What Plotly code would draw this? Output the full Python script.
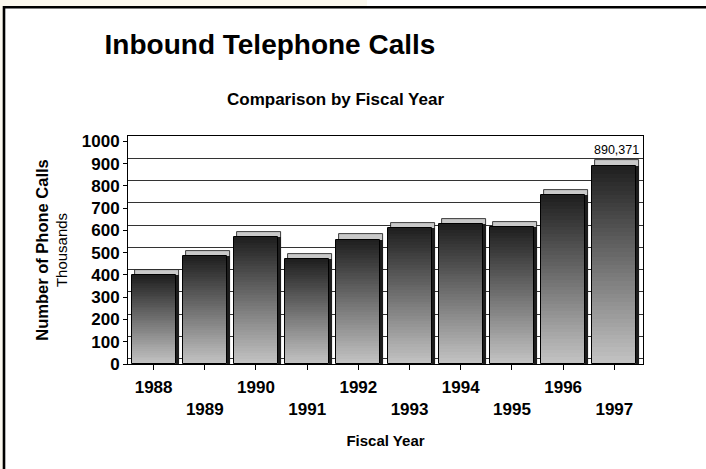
import plotly.graph_objects as go

# ---- data ----
fiscal_years = ["1988", "1989", "1990", "1991", "1992", "1993", "1994", "1995", "1996", "1997"]
calls_thousands = [399, 483, 569, 470, 558, 611, 629, 615, 758, 890.371]
y_ticks = [0, 100, 200, 300, 400, 500, 600, 700, 800, 900, 1000]
title_text = "Inbound Telephone Calls"
subtitle_text = "Comparison by Fiscal Year"
x_title = "Fiscal Year"
y_title_main = "Number of Phone Calls"
y_title_sub = "Thousands"

# ---- geometry / style ----
W, H = 706, 469
ML, MR, MT, MB = 128, 63, 136, 105
PW, PH = W - ML - MR, H - MT - MB
DEPTH = 24          # back-wall offset in data units (~5 px)
DX = 0.06           # back-wall offset in category units (~3 px)
BW = 0.86           # bar width
YMAX = 1000 + DEPTH
XR = [-0.5, len(fiscal_years) - 0.5 + DX]
FONT = "Liberation Sans, Arial, sans-serif"


def px2x(px):
    return (px - ML) / PW


def py2y(py):
    return (H - MB - py) / PH


fig = go.Figure()

# base (back wall) subplot: invisible trace so the axes exist
fig.add_trace(go.Scatter(x=fiscal_years, y=[0] * len(fiscal_years), mode="markers",
                         marker=dict(opacity=0), hoverinfo="skip", showlegend=False,
                         xaxis="x", yaxis="y"))

# value label only for the last year
label_text = [""] * (len(fiscal_years) - 1) + [f"{calls_thousands[-1] * 1000:,.0f}"]

# 3D top cap (light)
fig.add_trace(go.Bar(x=fiscal_years, y=[v + DEPTH for v in calls_thousands],
                     width=BW, offset=-BW / 2 + DX,
                     marker=dict(color="#c9c9c9", line=dict(color="#111", width=0.8)),
                     text=label_text, textposition="outside", cliponaxis=False,
                     constraintext="none",
                     textfont=dict(family=FONT, size=12.5, color="#000"),
                     hoverinfo="skip", showlegend=False, xaxis="x", yaxis="y2"))
# 3D side (dark)
fig.add_trace(go.Bar(x=fiscal_years, y=calls_thousands,
                     width=BW, offset=-BW / 2 + DX,
                     marker=dict(color="#1c1c1c", line=dict(width=0)),
                     hoverinfo="skip", showlegend=False, xaxis="x", yaxis="y2"))

# front face with vertical gradient (dark top -> light bottom)
N = 48
for k in range(N):
    t = (k + 0.5) / N
    c = int(round(30 + (196 - 30) * t))
    frac = (N - k) / N
    fig.add_trace(go.Bar(x=fiscal_years, y=[v * frac for v in calls_thousands],
                         width=BW, offset=-BW / 2,
                         marker=dict(color=f"rgb({c},{c},{c})", line=dict(width=0)),
                         hoverinfo="skip", showlegend=False, xaxis="x", yaxis="y2"))
# front outline
fig.add_trace(go.Bar(x=fiscal_years, y=calls_thousands, width=BW, offset=-BW / 2,
                     marker=dict(color="rgba(0,0,0,0)", line=dict(color="#000", width=1)),
                     showlegend=False, xaxis="x", yaxis="y2",
                     hovertemplate="%{x}: %{y:,.3f} thousand<extra></extra>"))

# invisible trace for the second row of x labels
fig.add_trace(go.Scatter(x=fiscal_years, y=[0] * len(fiscal_years), mode="markers",
                         marker=dict(opacity=0), hoverinfo="skip", showlegend=False,
                         xaxis="x2", yaxis="y"))

even_labels = [y if i % 2 == 0 else "" for i, y in enumerate(fiscal_years)]
odd_labels = [y if i % 2 == 1 else "" for i, y in enumerate(fiscal_years)]

tick_font = dict(family=FONT, size=17, color="#000", weight="bold")

fig.update_layout(
    width=W, height=H,
    margin=dict(l=ML, r=MR, t=MT, b=MB, pad=0),
    paper_bgcolor="#ffffff", plot_bgcolor="#ffffff",
    barmode="overlay", bargap=0,
    showlegend=False,
    xaxis=dict(type="category", categoryorder="array", categoryarray=fiscal_years,
               range=XR, tickmode="array", tickvals=fiscal_years, ticktext=even_labels,
               ticks="outside", ticklen=5, tickcolor="#000", tickwidth=1,
               ticklabelstandoff=3,
               showline=True, linecolor="#000", linewidth=1, mirror=True,
               showgrid=False, zeroline=False, tickfont=tick_font,
               title=dict(text=f"<b>{x_title}</b>", standoff=39,
                          font=dict(family=FONT, size=15, color="#000"))),
    xaxis2=dict(type="category", categoryorder="array", categoryarray=fiscal_years,
                range=XR, overlaying="x", anchor="y", side="bottom",
                tickmode="array", tickvals=fiscal_years, ticktext=odd_labels,
                ticks="", ticklabelstandoff=33, showline=False, showgrid=False,
                zeroline=False, tickfont=tick_font),
    yaxis=dict(range=[-DEPTH, 1000], tickmode="array", tickvals=y_ticks,
               showticklabels=False, ticks="", showgrid=True, gridcolor="#333",
               gridwidth=1, zeroline=False,
               showline=True, linecolor="#000", linewidth=1, mirror=True,
               title=dict(text=(f"<span style='font-size:16.5px'><b>{y_title_main}</b></span>"
                                f"<br>{y_title_sub}"),
                          standoff=55,
                          font=dict(family=FONT, size=15, color="#000"))),
    yaxis2=dict(range=[0, YMAX], overlaying="y", anchor="x", side="left",
                tickmode="array", tickvals=y_ticks, ticktext=[str(v) for v in y_ticks],
                ticks="outside", ticklen=4, tickcolor="#000", showgrid=False,
                zeroline=False, showline=True, linecolor="#000", linewidth=1,
                tickfont=tick_font),
    title=dict(text=f"<b>{title_text}</b>", xref="container", yref="container",
               x=270 / W, y=1 - 44 / H, xanchor="center", yanchor="middle",
               font=dict(family=FONT, size=28, color="#000")),
)

# subtitle
fig.add_annotation(text=f"<b>{subtitle_text}</b>", xref="paper", yref="paper",
                   x=px2x(335), y=py2y(100), xanchor="center", yanchor="middle",
                   showarrow=False, font=dict(family=FONT, size=17, color="#000"))

# frame around the slide
fig.add_shape(type="rect", xref="paper", yref="paper", x0=px2x(0), x1=px2x(367),
              y0=py2y(6), y1=py2y(0), fillcolor="#fbf8ee", line=dict(width=0), layer="below")
fig.add_shape(type="rect", xref="paper", yref="paper", x0=px2x(0), x1=px2x(3),
              y0=py2y(H), y1=py2y(0), fillcolor="#fbf8ee", line=dict(width=0), layer="below")
fig.add_shape(type="line", xref="paper", yref="paper", x0=px2x(3), x1=px2x(W),
              y0=py2y(7.3), y1=py2y(7.3), line=dict(color="#000", width=2.6))
fig.add_shape(type="line", xref="paper", yref="paper", x0=px2x(4), x1=px2x(4),
              y0=py2y(6), y1=py2y(H), line=dict(color="#000", width=2.6))

fig.write_html("out.html")
